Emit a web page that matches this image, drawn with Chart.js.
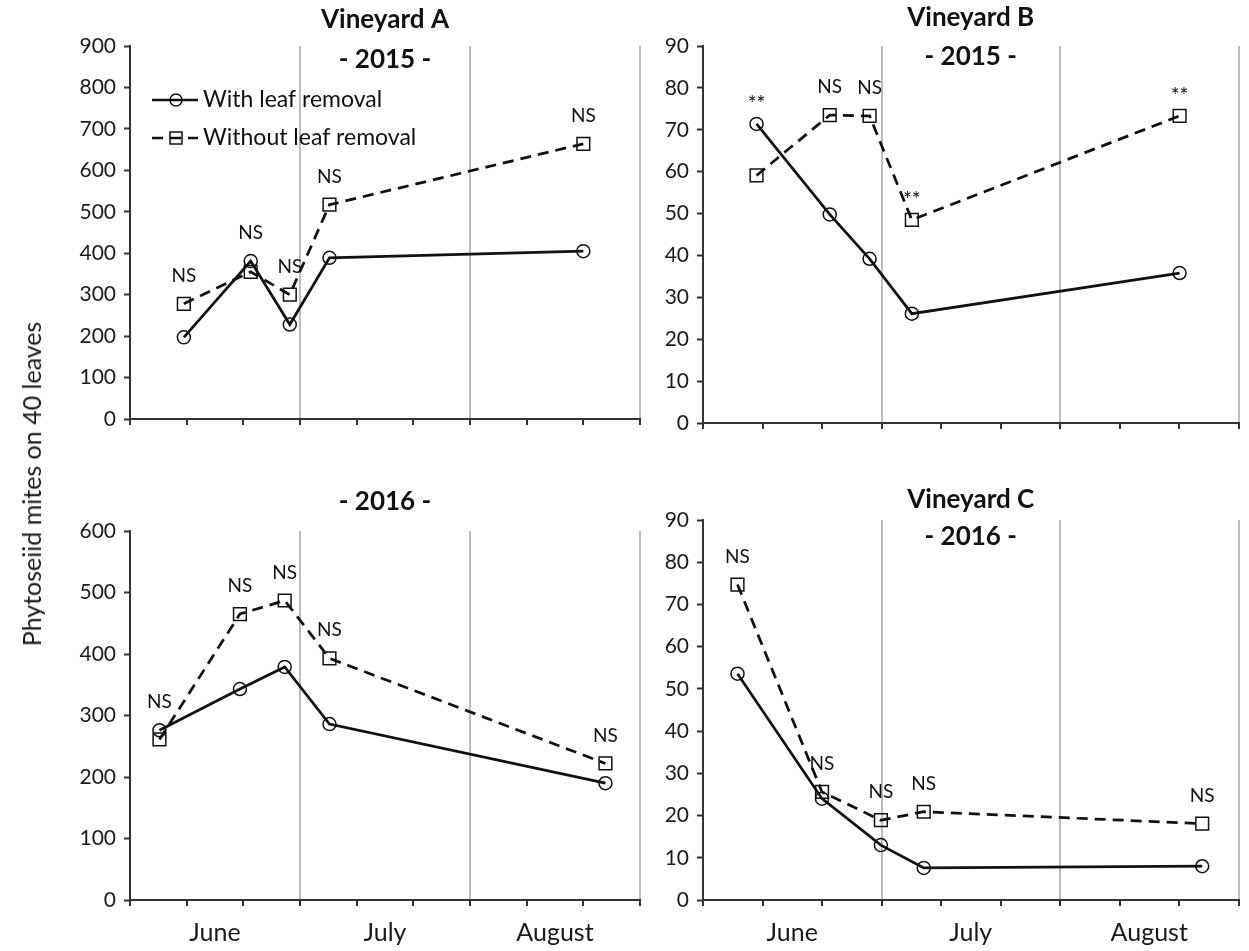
<!DOCTYPE html>
<html>
<head>
<meta charset="utf-8">
<title>Phytoseiid mites on 40 leaves</title>
<script src="https://cdn.jsdelivr.net/npm/chart.js@4.4.0/dist/chart.umd.min.js"></script>
<style>
  body { margin: 0; background: #fff; }
  #wrap { position: relative; width: 1249px; height: 951px; overflow: hidden; }
  #wrap canvas { position: absolute; }
  #ytitle {
    position: absolute; left: 31px; top: 484px;
    transform: translate(-50%, -50%) rotate(-90deg);
    white-space: nowrap; font: 25px Lato, sans-serif; color: #1a1a1a;
  }
</style>
</head>
<body>
<div id="wrap">
  <canvas id="vineyardA2015" width="620" height="470" style="left:40px;top:0"></canvas>
  <canvas id="vineyardB2015" width="609" height="470" style="left:640px;top:0"></canvas>
  <canvas id="vineyardA2016" width="620" height="481" style="left:40px;top:470px"></canvas>
  <canvas id="vineyardC2016" width="609" height="481" style="left:640px;top:470px"></canvas>
  <div id="ytitle">Phytoseiid mites on 40 leaves</div>
</div>
<script>
// x axis runs in days from late May; month borders every 30 days
const months = ['June', 'July', 'August'];
const seriesNames = ['With leaf removal', 'Without leaf removal'];

// Vineyard A, 2015
const daysA15 = [9.5, 21.3, 28.2, 35.2, 80];
const withA15 = [197, 381, 228, 389, 405];
const withoutA15 = [278, 355, 300, 517, 664];
const sigA15 = ['NS', 'NS', 'NS', 'NS', 'NS'];

// Vineyard B, 2015
const daysB15 = [9, 21.3, 28, 35.1, 80.1];
const withB15 = [71.4, 49.8, 39.2, 26.1, 35.8];
const withoutB15 = [59.1, 73.5, 73.3, 48.5, 73.3];
const sigB15 = ['**', 'NS', 'NS', '**', '**'];

// Vineyard A, 2016
const daysA16 = [5.2, 19.4, 27.3, 35.2, 83.9];
const withA16 = [276, 343, 379, 286, 190];
const withoutA16 = [261, 465, 487, 393, 222];
const sigA16 = ['NS', 'NS', 'NS', 'NS', 'NS'];

// Vineyard C, 2016
const daysC16 = [5.8, 20, 29.9, 37.1, 83.9];
const withC16 = [53.6, 24.0, 13.0, 7.6, 8.0];
const withoutC16 = [74.7, 25.6, 18.9, 20.9, 18.1];
const sigC16 = ['NS', 'NS', 'NS', 'NS', 'NS'];

Chart.defaults.font.family = 'Lato, sans-serif';
Chart.defaults.color = '#1a1a1a';

const INK = '#111';
const AXIS = '#333';
const GRID = '#bdbdbd';

function points(days, vals) {
  return days.map((d, i) => ({ x: d, y: vals[i] }));
}

function drawLegend(ctx, area, sets) {
  sets.forEach((ds, i) => {
    const y = area.top + 54 + i * 38;
    const x0 = area.left + 22;
    const mx = x0 + 24;
    ctx.strokeStyle = INK;
    ctx.lineWidth = 2.5;
    ctx.setLineDash(ds.borderDash || []);
    ctx.beginPath();
    ctx.moveTo(x0, y);
    ctx.lineTo(x0 + 46, y);
    ctx.stroke();
    ctx.setLineDash([]);
    ctx.lineWidth = 1.5;
    ctx.beginPath();
    if (ds.pointStyle === 'rect') {
      ctx.rect(mx - 6, y - 6, 12, 12);
    } else {
      ctx.arc(mx, y, 6, 0, Math.PI * 2);
    }
    ctx.stroke();
    ctx.fillStyle = INK;
    ctx.textAlign = 'left';
    ctx.textBaseline = 'middle';
    ctx.font = '23px Lato, sans-serif';
    ctx.fillText(ds.label, x0 + 51, y);
  });
}

// headings, significance marks and the legend
const panelText = {
  id: 'panelText',
  afterDatasetsDraw(chart, args, opts) {
    const { ctx, chartArea: area, scales } = chart;
    ctx.save();
    ctx.fillStyle = INK;
    ctx.textAlign = 'center';
    ctx.textBaseline = 'middle';
    const cx = (area.left + area.right) / 2;
    ctx.font = 'bold 26px Lato, sans-serif';
    opts.titles.forEach(([text, dy]) => ctx.fillText(text, cx, area.top + dy));

    const [withSet, withoutSet] = chart.data.datasets;
    opts.sig.forEach((s, i) => {
      const p = withSet.data[i];
      const q = withoutSet.data[i];
      const x = scales.x.getPixelForValue(p.x);
      const top = Math.min(scales.y.getPixelForValue(p.y), scales.y.getPixelForValue(q.y));
      // asterisks sit high in the em box, so they go a little lower
      if (s === '**') {
        ctx.font = '21px Lato, sans-serif';
        ctx.fillText(s, x, top - 20);
      } else {
        ctx.font = '19px Lato, sans-serif';
        ctx.fillText(s, x, top - 28);
      }
    });

    if (opts.legend) drawLegend(ctx, area, chart.data.datasets);
    ctx.restore();
  }
};

function makePanel(id, p) {
  const scales = {
    x: {
      type: 'linear', min: 0, max: 90, position: 'bottom',
      afterBuildTicks: s => { s.ticks = [0, 10, 20, 30, 40, 50, 60, 70, 80, 90].map(v => ({ value: v })); },
      ticks: { display: false },
      grid: {
        color: c => (c.tick && c.tick.value > 0 && c.tick.value % 30 === 0) ? GRID : 'rgba(0,0,0,0)',
        lineWidth: 2, tickColor: AXIS, tickWidth: 2, tickLength: 6
      },
      border: { color: AXIS, width: 2 },
      afterFit: s => { s.height = 8; }
    },
    y: {
      min: 0, max: p.ymax,
      ticks: { stepSize: p.step, font: { size: 21 }, color: '#1a1a1a', padding: 8 },
      grid: { drawOnChartArea: false, tickColor: AXIS, tickWidth: 2, tickLength: 6 },
      border: { color: AXIS, width: 2 },
      afterFit: s => { s.width = p.yWidth; }
    }
  };
  if (p.monthLabels) {
    scales.months = {
      type: 'linear', min: 0, max: 90, position: 'bottom',
      afterBuildTicks: s => { s.ticks = [15, 45, 75].map(v => ({ value: v })); },
      ticks: { callback: (v, i) => months[i], font: { size: 25 }, color: '#1a1a1a', padding: 10, maxRotation: 0, autoSkip: false },
      grid: { display: false, drawTicks: false },
      border: { display: false },
      afterFit: s => { s.height = 41; }
    };
  }

  new Chart(document.getElementById(id), {
    type: 'line',
    data: {
      datasets: [
        {
          label: seriesNames[0],
          data: points(p.days, p.withVals),
          borderColor: INK, borderWidth: 2.75,
          pointStyle: 'circle', pointRadius: 6.5, pointBorderWidth: 1.5,
          pointBorderColor: INK, pointBackgroundColor: 'rgba(255,255,255,0)'
        },
        {
          label: seriesNames[1],
          data: points(p.days, p.withoutVals),
          borderColor: INK, borderWidth: 2.75, borderDash: [11, 7],
          pointStyle: 'rect', pointRadius: 9, pointBorderWidth: 1.5,
          pointBorderColor: INK, pointBackgroundColor: 'rgba(255,255,255,0)'
        }
      ]
    },
    options: {
      responsive: false,
      animation: false,
      devicePixelRatio: 1,
      layout: { padding: p.padding },
      scales,
      plugins: {
        legend: { display: false },
        tooltip: { enabled: false },
        panelText: { titles: p.titles, sig: p.sig, legend: !!p.legend }
      }
    },
    plugins: [panelText]
  });
}

makePanel('vineyardA2015', {
  days: daysA15, withVals: withA15, withoutVals: withoutA15, sig: sigA15,
  ymax: 900, step: 100, yWidth: 90, legend: true,
  titles: [['Vineyard A', -26], ['- 2015 -', 14]],
  padding: { left: 0, right: 20, top: 46, bottom: 43 }
});

makePanel('vineyardB2015', {
  days: daysB15, withVals: withB15, withoutVals: withoutB15, sig: sigB15,
  ymax: 90, step: 10, yWidth: 63,
  titles: [['Vineyard B', -28], ['- 2015 -', 11]],
  padding: { left: 0, right: 9, top: 46, bottom: 39 }
});

makePanel('vineyardA2016', {
  days: daysA16, withVals: withA16, withoutVals: withoutA16, sig: sigA16,
  ymax: 600, step: 100, yWidth: 90, monthLabels: true,
  titles: [['- 2016 -', -29]],
  padding: { left: 0, right: 20, top: 61, bottom: 2 }
});

makePanel('vineyardC2016', {
  days: daysC16, withVals: withC16, withoutVals: withoutC16, sig: sigC16,
  ymax: 90, step: 10, yWidth: 63, monthLabels: true,
  titles: [['Vineyard C', -20], ['- 2016 -', 17]],
  padding: { left: 0, right: 9, top: 50, bottom: 2 }
});
</script>
</body>
</html>
